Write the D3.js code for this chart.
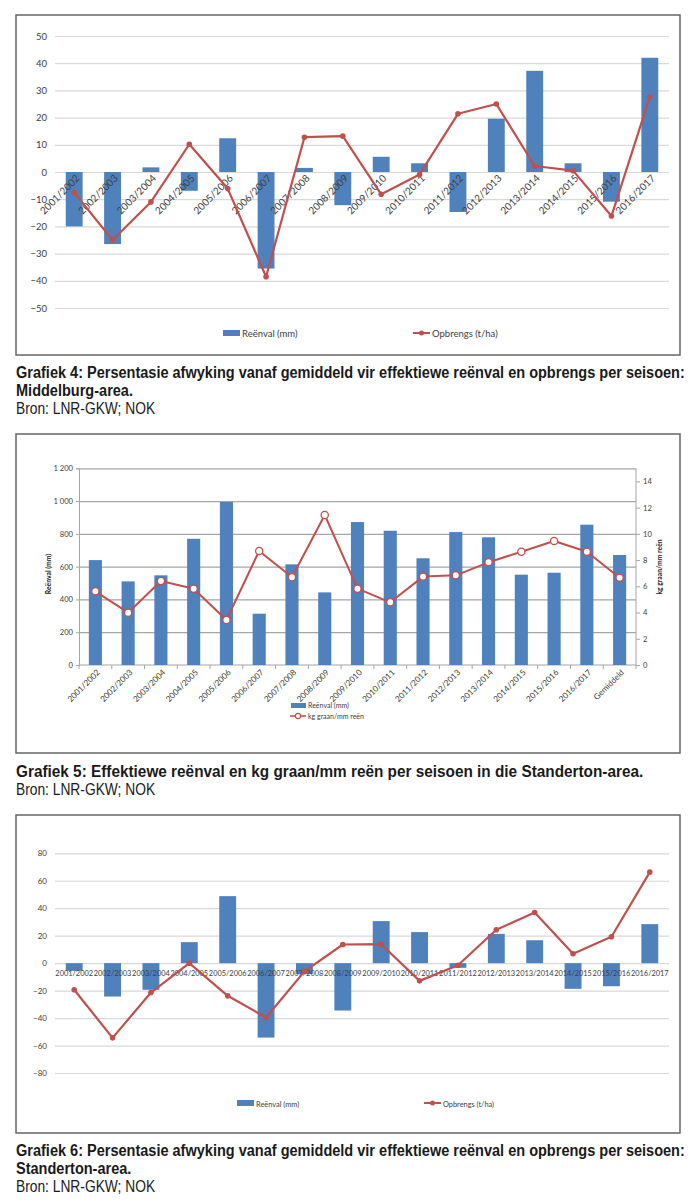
<!DOCTYPE html>
<html><head><meta charset="utf-8">
<script src="https://cdnjs.cloudflare.com/ajax/libs/d3/7.8.5/d3.min.js"></script>
<style>
body{margin:0;background:#fff;}
svg{display:block;}
</style></head>
<body><svg id="c" width="700" height="1204"></svg>
<script>
// ---------- DATA ----------
const seasons = ["2001/2002","2002/2003","2003/2004","2004/2005","2005/2006","2006/2007","2007/2008","2008/2009","2009/2010","2010/2011","2011/2012","2012/2013","2013/2014","2014/2015","2015/2016","2016/2017"];
// Grafiek 4 (Middelburg) – % deviation
const rainMid = [-20,-26.5,1.7,-6.9,12.4,-35.5,1.5,-12.2,5.6,3.2,-14.7,19.6,37.2,3.2,-10.9,42.0];
const yieldMid = [-7.6,-25,-11,10.2,-6.1,-38.5,12.8,13.2,-8.2,-0.9,21.4,25,2.2,0.5,-16.2,27.6];
const ticksMid = [50,40,30,20,10,0,-10,-20,-30,-40,-50];
// Grafiek 5 (Standerton) – rainfall and kg grain/mm
const seasons5 = seasons.concat(["Gemiddeld"]);
const rainStd = [640,510,547,770,995,313,614,443,872,819,651,811,779,551,563,856,671];
const kgPerMm = [5.62,3.99,6.41,5.82,3.43,8.70,6.69,11.44,5.82,4.78,6.74,6.84,7.83,8.64,9.46,8.64,6.66];
const ticksLeft5 = [0,200,400,600,800,1000,1200];
const ticksRight5 = [0,2,4,6,8,10,12,14];
// Grafiek 6 (Standerton) – % deviation
const rainDev = [-5.6,-24.3,-19.4,15.3,48.8,-54.2,-8,-34.5,30.6,22.6,-3.4,21.3,16.7,-18.7,-16.8,28.4];
const yieldDev = [-19.4,-54.4,-21.4,0,-23.8,-39.6,-6,13.6,13.8,-12.9,-1.5,24.3,36.9,6.8,19.2,66.3];
const ticksDev = [80,60,40,20,0,-20,-40,-60,-80];
// Texts
const legRain = "Reënval (mm)";
const legYield = "Opbrengs (t/ha)";
const legKg = "kg graan/mm reën";
const cap4 = ["Grafiek 4: Persentasie afwyking vanaf gemiddeld vir effektiewe reënval en opbrengs per seisoen:","Middelburg-area."];
const cap5 = ["Grafiek 5: Effektiewe reënval en kg graan/mm reën per seisoen in die Standerton-area."];
const cap6 = ["Grafiek 6: Persentasie afwyking vanaf gemiddeld vir effektiewe reënval en opbrengs per seisoen:","Standerton-area."];
const source = "Bron: LNR-GKW; NOK";

// ---------- STYLE ----------
const BLUE = "#4f81bd", RED = "#c0504d", TXT = "#404040";
const F = "Lato, 'Open Sans', sans-serif";
const CAPF = "'Liberation Sans', Arial, sans-serif";
const svg = d3.select("#c");
svg.append("rect").attr("width",700).attr("height",1204).attr("fill","#fff");

function box(y0,y1){
  svg.append("rect").attr("x",16).attr("y",y0).attr("width",664).attr("height",y1-y0)
    .attr("fill","#fff").attr("stroke","#666").attr("stroke-width",1.5);
}
function capLine(txt, y, bold, width, sx){
  const t = svg.append("text").attr("x",0).attr("y",0).attr("font-family",CAPF)
    .attr("font-weight",bold?"bold":"normal").attr("font-size",16.8).attr("fill","#1a1a1a").text(txt);
  const w = t.node().getComputedTextLength();
  const s = sx || width/w;
  t.attr("transform",`translate(16,${y}) scale(${s},1)`);
  return s;
}
function caption(lines, y, w1){
  const s = capLine(lines[0], y, true, w1);
  let yy = y;
  for(let i=1;i<lines.length;i++){ yy += 17.8; capLine(lines[i], yy, true, 0, s); }
  yy += 17.8;
  capLine(source, yy, false, 139);
}

// ---------- deviation chart (4 and 6) ----------
function devChart(o){
  box(o.top,o.bottom);
  const x = d3.scaleBand().domain(seasons).range([55,669]).paddingInner(0.56).paddingOuter(0.28);
  const y = d3.scaleLinear().domain([o.min,o.max]).range([o.yMin,o.yMax]);
  const g = svg.append("g");
  const ax = g.append("g").attr("transform","translate(55,0)")
    .call(d3.axisLeft(y).tickValues(o.ticks).tickSize(-614).tickPadding(8));
  ax.select(".domain").remove();
  ax.selectAll("line").attr("stroke","#d9d9d9").attr("stroke-width",1.2);
  ax.selectAll("text").attr("font-family",F).attr("font-size",o.tickFs).attr("fill",TXT);
  g.selectAll(".bar").data(o.rain).enter().append("rect")
    .attr("x",(d,i)=>x(seasons[i])).attr("width",x.bandwidth())
    .attr("y",d=>y(Math.max(0,d))).attr("height",d=>Math.abs(y(d)-y(0)))
    .attr("fill",BLUE);
  const lab = g.append("g");
  seasons.forEach((s,i)=>{
    const cx = x(s)+x.bandwidth()/2;
    if(o.rotate){
      lab.append("text").attr("transform",`translate(${cx+6},${y(0)+7}) rotate(-45)`)
        .attr("text-anchor","end").attr("font-family",F).attr("font-size",o.labFs).attr("fill",TXT).text(s);
    } else {
      lab.append("text").attr("x",cx).attr("y",y(0)+13).attr("text-anchor","middle")
        .attr("font-family",F).attr("font-size",o.labFs).attr("fill",TXT).text(s);
    }
  });
  const line = d3.line().x((d,i)=>x(seasons[i])+x.bandwidth()/2).y(d=>y(d));
  g.append("path").datum(o.yield).attr("d",line).attr("fill","none").attr("stroke",RED).attr("stroke-width",2.2).attr("stroke-linejoin","round");
  g.selectAll(".pt").data(o.yield).enter().append("circle")
    .attr("cx",(d,i)=>x(seasons[i])+x.bandwidth()/2).attr("cy",d=>y(d)).attr("r",2.8).attr("fill",RED);
  const L = o.leg;
  g.append("rect").attr("x",L.x1).attr("y",L.y-3).attr("width",17).attr("height",6).attr("fill",BLUE);
  g.append("text").attr("x",L.x1+19).attr("y",L.y+3.5).attr("font-family",F).attr("font-size",L.fs).attr("fill",TXT).text(legRain);
  g.append("line").attr("x1",L.x2).attr("x2",L.x2+17).attr("y1",L.y).attr("y2",L.y).attr("stroke",RED).attr("stroke-width",2);
  g.append("circle").attr("cx",L.x2+8.5).attr("cy",L.y).attr("r",2.5).attr("fill",RED);
  g.append("text").attr("x",L.x2+19).attr("y",L.y+3.5).attr("font-family",F).attr("font-size",L.fs).attr("fill",TXT).text(legYield);
}

devChart({top:15,bottom:355,min:-50,max:50,yMin:308,yMax:36,ticks:ticksMid,rain:rainMid,yield:yieldMid,
  rotate:true,tickFs:9.5,labFs:10,leg:{x1:223,x2:413,y:333,fs:9.5}});
caption(cap4,378,669);

// ---------- Grafiek 5 ----------
(function(){
  box(434,753);
  const x = d3.scaleBand().domain(seasons5).range([79,636]).paddingInner(0.6).paddingOuter(0.3);
  const yL = d3.scaleLinear().domain([0,1200]).range([665,468.3]);
  const yR = d3.scaleLinear().domain([0,15]).range([665,468.3]);
  const g = svg.append("g");
  const grid = g.append("g").attr("transform","translate(79,0)")
    .call(d3.axisLeft(yL).tickValues(ticksLeft5.slice(1)).tickSize(-557).tickFormat(""));
  grid.select(".domain").remove();
  grid.selectAll("line").attr("stroke","#a6a6a6").attr("stroke-width",1.2);
  const fmt = d=> d>=1000 ? d3.format(",")(d).replace(","," ") : String(d);
  const al = g.append("g").attr("transform","translate(79,0)")
    .call(d3.axisLeft(yL).tickValues(ticksLeft5).tickSize(3).tickPadding(3).tickFormat(fmt));
  al.select(".domain").attr("stroke","#a6a6a6");
  al.selectAll("line").attr("stroke","#a6a6a6");
  al.selectAll("text").attr("font-family",F).attr("font-size",7.6).attr("fill",TXT);
  const ar = g.append("g").attr("transform","translate(636,0)")
    .call(d3.axisRight(yR).tickValues(ticksRight5).tickSize(4).tickPadding(3));
  ar.select(".domain").attr("stroke","#a6a6a6").attr("d","M0,665V468.3");
  ar.selectAll("line").attr("stroke","#a6a6a6");
  ar.selectAll("text").attr("font-family",F).attr("font-size",7.6).attr("fill",TXT);
  g.append("line").attr("x1",79).attr("x2",636).attr("y1",665).attr("y2",665).attr("stroke","#a6a6a6").attr("stroke-width",1.2);
  const step = x.step();
  seasons5.concat([null]).forEach((s,i)=>{
    const bx = x(seasons5[0]) - step*0.3 + i*step;
    g.append("line").attr("x1",bx).attr("x2",bx).attr("y1",665).attr("y2",669).attr("stroke","#a6a6a6");
  });
  g.selectAll(".bar").data(rainStd).enter().append("rect")
    .attr("x",(d,i)=>x(seasons5[i])).attr("width",x.bandwidth())
    .attr("y",d=>yL(d)).attr("height",d=>yL(0)-yL(d)).attr("fill",BLUE);
  seasons5.forEach(s=>{
    const cx = x(s)+x.bandwidth()/2;
    g.append("text").attr("transform",`translate(${cx+5},${673}) rotate(-45)`)
      .attr("text-anchor","end").attr("font-family",F).attr("font-size",8.2).attr("fill",TXT).text(s);
  });
  const line = d3.line().x((d,i)=>x(seasons5[i])+x.bandwidth()/2).y(d=>yR(d));
  g.append("path").datum(kgPerMm).attr("d",line).attr("fill","none").attr("stroke",RED).attr("stroke-width",2).attr("stroke-linejoin","round");
  g.selectAll(".pt").data(kgPerMm).enter().append("circle")
    .attr("cx",(d,i)=>x(seasons5[i])+x.bandwidth()/2).attr("cy",d=>yR(d)).attr("r",3.6)
    .attr("fill","#fff").attr("stroke",RED).attr("stroke-width",1.3);
  g.append("text").attr("transform","translate(51,574) rotate(-90)").attr("text-anchor","middle")
    .attr("font-family",F).attr("font-weight","bold").attr("font-size",6.8).attr("fill","#222").text(legRain);
  g.append("text").attr("transform","translate(662,567) rotate(-90)").attr("text-anchor","middle")
    .attr("font-family",F).attr("font-weight","bold").attr("font-size",6.8).attr("fill","#222").text(legKg);
  g.append("rect").attr("x",291).attr("y",703).attr("width",15).attr("height",5).attr("fill",BLUE);
  g.append("text").attr("x",308).attr("y",708).attr("font-family",F).attr("font-size",7).attr("fill",TXT).text(legRain);
  g.append("line").attr("x1",290).attr("x2",306).attr("y1",716).attr("y2",716).attr("stroke",RED).attr("stroke-width",1.6);
  g.append("circle").attr("cx",298).attr("cy",716).attr("r",2.6).attr("fill","#fff").attr("stroke",RED).attr("stroke-width",1.1);
  g.append("text").attr("x",308).attr("y",718.5).attr("font-family",F).attr("font-size",7).attr("fill",TXT).text(legKg);
})();
caption(cap5,777,627);

devChart({top:815,bottom:1133,min:-80,max:80,yMin:1073,yMax:853.3,ticks:ticksDev,rain:rainDev,yield:yieldDev,
  rotate:false,tickFs:8,labFs:7.4,leg:{x1:237,x2:424,y:1103,fs:7.4}});
caption(cap6,1156,669);
</script></body></html>
